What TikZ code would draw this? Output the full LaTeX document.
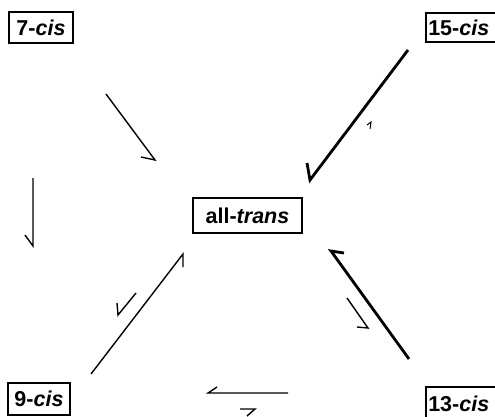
\documentclass[tikz,border=0pt]{standalone}
\usepackage{fontspec}
\setmainfont{Liberation Sans}
\begin{document}
\begin{tikzpicture}[x=1pt,y=-1pt,
  box/.style={draw,line width=1.5pt,inner sep=0pt,font=\fontsize{21.5}{24}\selectfont\bfseries},
  thinarr/.style={line width=1.4pt,line join=miter},
  thickarr/.style={line width=2.8pt,line join=miter},
  tinyarr/.style={line width=1pt}]
\useasboundingbox (0,0) rectangle (495,416);
\clip (0,0) rectangle (495,416);
% boxes
\node[box,minimum width=64pt,minimum height=31pt] (c7) at (41,27.5) {7-\textit{cis}};
\node[box,minimum width=70pt,minimum height=29pt,anchor=west] (c15) at (425,27.5) {\hspace*{-4pt}15-\textit{cis}};
\node[box,minimum width=62pt,minimum height=32pt] (c9) at (39,399) {9-\textit{cis}};
\node[box,minimum width=72pt,minimum height=33pt,anchor=west] (c13) at (425,403.5) {\hspace*{-6pt}13-\textit{cis}};
\node[box,minimum width=109pt,minimum height=35pt] (at) at (247.5,215.5) {all-\textit{trans}};
% coordinates
\coordinate (a1s) at (106,94);  \coordinate (a1t) at (155,160); \coordinate (a1b) at (141,157);
\coordinate (a2s) at (33,178);  \coordinate (a2t) at (33,246);  \coordinate (a2b) at (25,235);
\coordinate (a3s) at (408,50);  \coordinate (a3t) at (310,180); \coordinate (a3b) at (307,163);
\coordinate (r3s) at (370,129); \coordinate (r3t) at (371,122); \coordinate (r3b) at (367,125);
\coordinate (a4s) at (91,374);  \coordinate (a4t) at (183,254); \coordinate (a4b) at (183,267);
\coordinate (r4s) at (136,293); \coordinate (r4t) at (118,315); \coordinate (r4b) at (117,303);
\coordinate (a5s) at (409,359); \coordinate (a5t) at (331,251); \coordinate (a5b) at (344,253);
\coordinate (r5s) at (347,298); \coordinate (r5t) at (368,328); \coordinate (r5b) at (357,327);
\coordinate (a6s) at (288,393); \coordinate (a6t) at (208,393); \coordinate (a6b) at (217,387);
\coordinate (r6s) at (240,409); \coordinate (r6t) at (255,409); \coordinate (r6b) at (247,416);
% arrows
\draw[thinarr] (a1s) -- (a1t) -- (a1b);
\draw[thinarr] (a2s) -- (a2t) -- (a2b);
\draw[thickarr] (a3s) -- (a3t) -- (a3b);
\draw[tinyarr] (r3s) -- (r3t) -- (r3b);
\draw[thinarr] (a4s) -- (a4t) -- (a4b);
\draw[thinarr] (r4s) -- (r4t) -- (r4b);
\draw[thickarr] (a5s) -- (a5t) -- (a5b);
\draw[thinarr] (r5s) -- (r5t) -- (r5b);
\draw[thinarr] (a6s) -- (a6t) -- (a6b);
\draw[thinarr] (r6s) -- (r6t) -- (r6b);
\end{tikzpicture}
\end{document}
